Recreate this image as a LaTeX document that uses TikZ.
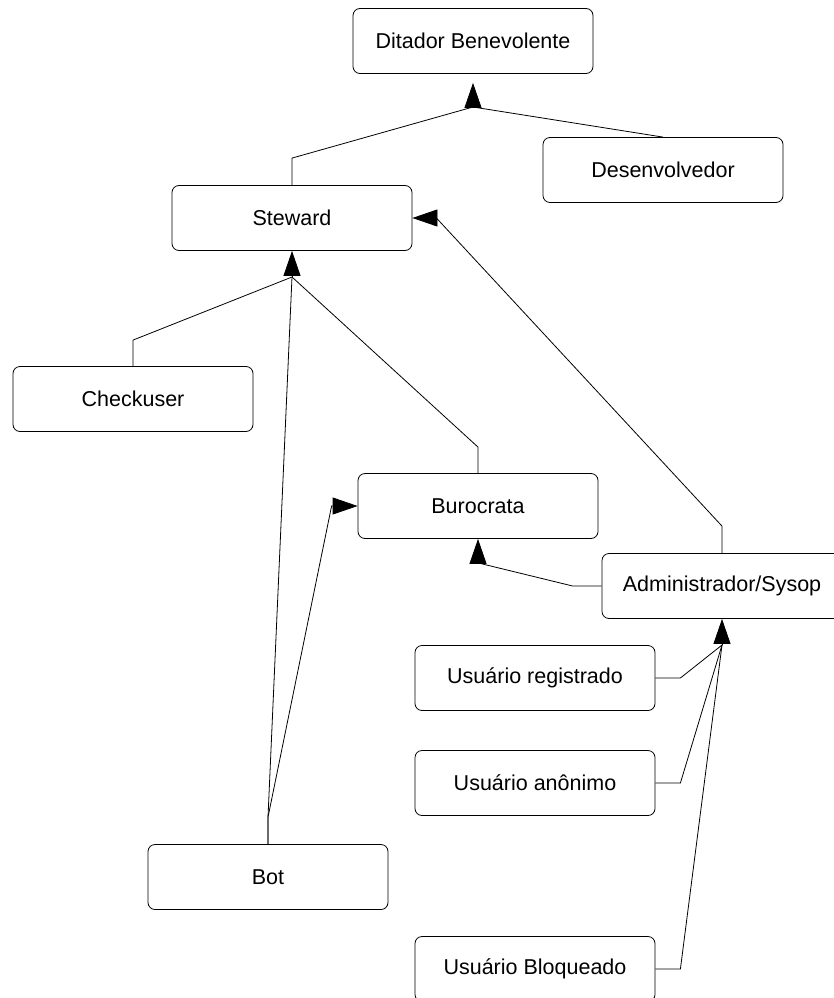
\documentclass[tikz,border=0pt]{standalone}
\usepackage{fontspec}
\setmainfont{Liberation Sans}
\usepackage{tikz}
\usetikzlibrary{arrows.meta,calc,positioning}
\newcommand{\papelfont}{\fontsize{21.5}{26}\selectfont}

\begin{document}
\begin{tikzpicture}[x=1pt,y=-1pt,line width=0.8pt,
  papel/.style={draw,rounded corners=7pt,minimum width=240pt,minimum height=65pt,inner sep=0pt,font=\papelfont},
  heranca/.style={-{Triangle[length=25pt,width=17pt]}}]
  \useasboundingbox (0,0) rectangle (833,998);
  \node[papel] (ditador) at (473,41) {Ditador Benevolente};
  \node[papel] (desenv) at (663,170) {Desenvolvedor};
  \node[papel] (steward) at (292,218) {Steward};
  \node[papel] (checkuser) at (133,399) {Checkuser};
  \node[papel] (burocrata) at (478,506) {Burocrata};
  \node[papel] (admin) at (722,586) {Administrador/Sysop};
  \node[papel] (registrado) at (535,678) {Usuário registrado};
  \node[papel] (anonimo) at (535,783) {Usuário anônimo};
  \node[papel] (bloqueado) at (535,969) {Usuário Bloqueado};
  \node[papel] (bot) at (268,877) {Bot};
  \coordinate (topo) at (473,107);
  \coordinate (meio) at (292,277);
  \coordinate (base) at (722,645);
  % topo
  \draw[heranca,shorten >=9pt] (topo) -- (ditador.south);
  \draw (steward.north) -- ++(0,-27) -- (topo);
  \draw (desenv.north) -- (topo);
  % steward
  \draw[heranca] (meio) -- (steward.south);
  \draw (checkuser.north) -- ++(0,-26) -- (meio);
  \draw (burocrata.north) -- ++(0,-26) -- (meio);
  \draw (bot.north) -- ++(0,-27) -- (meio);
  \draw[heranca] (admin.north) -- ++(0,-27) -- ($(steward.east)+(24,0)$) -- (steward.east);
  % burocrata
  \draw[heranca] (bot.north) -- ++(0,-27) -- ($(burocrata.west)+(-26,0)$) -- (burocrata.west);
  \draw[heranca] (admin.west) -- ++(-29,0) -- ($(burocrata.south)+(0,24)$) -- (burocrata.south);
  % admin
  \draw[heranca] (base) -- (admin.south);
  \draw (registrado.east) -- ++(25,0) -- (base);
  \draw (anonimo.east) -- ++(25,0) -- (base);
  \draw (bloqueado.east) -- ++(25,0) -- (base);
\end{tikzpicture}
\end{document}
